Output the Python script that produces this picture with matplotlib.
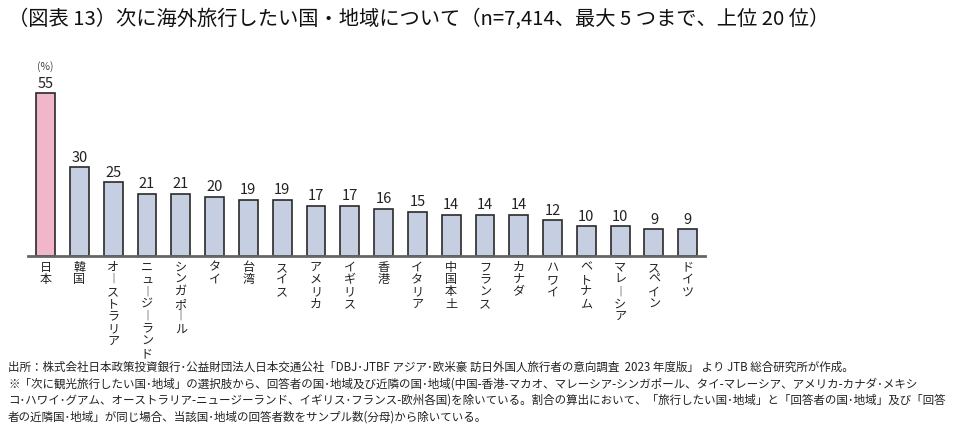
import matplotlib
matplotlib.use('Agg')
import matplotlib.pyplot as plt
import numpy as np

plt.rcParams['font.family'] = ['Noto Sans CJK JP', 'DejaVu Sans']

# data
countries = ['日本', '韓国', 'オーストラリア', 'ニュージーランド', 'シンガポール', 'タイ', '台湾',
             'スイス', 'アメリカ', 'イギリス', '香港', 'イタリア', '中国本土', 'フランス', 'カナダ',
             'ハワイ', 'ベトナム', 'マレーシア', 'スペイン', 'ドイツ']
share = [55, 30, 25, 21, 21, 20, 19, 19, 17, 17, 16, 15, 14, 14, 14, 12, 10, 10, 9, 9]

title = '（図表 13）次に海外旅行したい国・地域について（n=7,414、最大 5 つまで、上位 20 位）'
notes = [
    '出所：株式会社日本政策投資銀行･公益財団法人日本交通公社「DBJ･JTBF アジア･欧米豪 訪日外国人旅行者の意向調査  2023 年度版」 より JTB 総合研究所が作成。',
    '※「次に観光旅行したい国･地域」の選択肢から、回答者の国･地域及び近隣の国･地域(中国-香港-マカオ、マレーシア-シンガポール、タイ-マレーシア、アメリカ-カナダ･メキシ',
    'コ･ハワイ･グアム、オーストラリア-ニュージーランド、イギリス･フランス-欧州各国)を除いている。割合の算出において、「旅行したい国･地域」と「回答者の国･地域」及び「回答',
    '者の近隣国･地域」が同じ場合、当該国･地域の回答者数をサンプル数(分母)から除いている。',
]

W, H = 978, 438
fig = plt.figure(figsize=(W / 100, H / 100), dpi=100)

# axes placed in pixel terms
ax_left, ax_right, ax_base = 28, 705, 256
ymax = 60
ax_h = ymax * 2.96
ax = fig.add_axes([ax_left / W, 1 - ax_base / H, (ax_right - ax_left) / W, ax_h / H])

x = np.arange(len(countries))
colors = ['#efb7c9'] + ['#c5cfe1'] * (len(countries) - 1)
ax.bar(x, share, width=0.56, color=colors, edgecolor='#2a2a2a', linewidth=1.2, zorder=2)

for xi, v in zip(x, share):
    ax.text(xi, v + 0.8, str(v), ha='center', va='bottom', fontsize=10.5, color='#222222')

ax.text(0, 62.3, '(%)', ha='center', va='bottom', fontsize=7.5, color='#444444', clip_on=False)


def vertical(s):
    return '\n'.join('︱' if c == 'ー' else c for c in s)


for xi, name in zip(x, countries):
    ax.text(xi, -1.6, vertical(name), ha='center', va='top', fontsize=8.7, color='#222222',
            linespacing=0.93, clip_on=False)

ax.set_xlim(-0.52, 19.51)
ax.set_ylim(0, ymax)
ax.set_xticks([])
ax.set_yticks([])
for side in ['top', 'left', 'right']:
    ax.spines[side].set_visible(False)
ax.spines['bottom'].set_color('#666666')
ax.spines['bottom'].set_linewidth(2)
ax.patch.set_alpha(0)

fig.text(8 / W, 1 - 20 / H, title, ha='left', va='center', fontsize=14.6, color='#111111')

for i, line in enumerate(notes):
    fig.text(8 / W, 1 - (367 + 16.7 * i) / H, line, ha='left', va='center', fontsize=8.3,
             color='#222222')

fig.savefig('out.png', dpi=100, facecolor='white')
